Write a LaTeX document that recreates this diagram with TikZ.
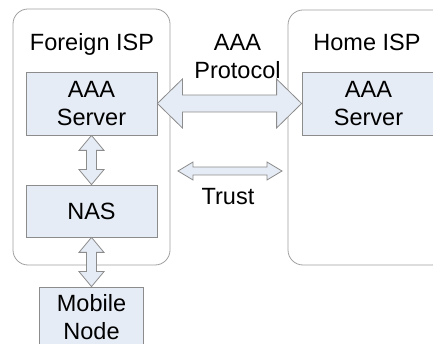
\documentclass[tikz,border=0pt]{standalone}
\usepackage{fontspec}
\setmainfont{Liberation Sans}
\usetikzlibrary{calc}

\definecolor{boxfill}{HTML}{E6ECF5}
\definecolor{boxline}{HTML}{8C8C8C}
\definecolor{ispline}{HTML}{A0A0A0}

% block arrows with a head at each end
\newcommand{\blockarrowH}[5]{%
  \draw[blockarrow] let \p1=(#1), \p2=(#2) in
    (\x1,\y1) -- (\x1+#5,\y1+#3) -- (\x1+#5,\y1+#4) -- (\x2-#5,\y1+#4)
    -- (\x2-#5,\y1+#3) -- (\x2,\y1) -- (\x2-#5,\y1-#3) -- (\x2-#5,\y1-#4)
    -- (\x1+#5,\y1-#4) -- (\x1+#5,\y1-#3) -- cycle;}
\newcommand{\blockarrowV}[5]{%
  \draw[blockarrow] let \p1=(#1), \p2=(#2) in
    (\x1,\y1) -- (\x1+#3,\y1-#5) -- (\x1+#4,\y1-#5) -- (\x1+#4,\y2+#5)
    -- (\x1+#3,\y2+#5) -- (\x1,\y2) -- (\x1-#3,\y2+#5) -- (\x1-#4,\y2+#5)
    -- (\x1-#4,\y1-#5) -- (\x1-#3,\y1-#5) -- cycle;}

\begin{document}
\begin{tikzpicture}[
    x=1pt, y=-1pt,
    font=\fontsize{23.5}{28}\selectfont,
    isp/.style={
        rectangle,
        rounded corners=15pt,
        draw=ispline,
        line width=0.8pt,
        inner sep=0pt
    },
    server/.style={
        rectangle,
        draw=boxline,
        fill=boxfill,
        line width=0.8pt,
        inner sep=0pt,
        align=center
    },
    blockarrow/.style={draw=boxline, fill=boxfill, line width=0.8pt, line join=miter},
    labelstyle/.style={align=center, inner sep=0pt}
]

\useasboundingbox (0,0) rectangle (433,344);
\clip (0,0) rectangle (433,344);

% ISP areas
\node[isp, minimum width=157pt, minimum height=256pt] (foreign) at (91.5,137) {};
\node[isp, minimum width=159pt, minimum height=255pt] (home) at (367.5,137.5) {};
\node[labelstyle] (foreigntitle) at (92,44) {Foreign ISP};
\node[labelstyle] (hometitle) at (367,42) {Home ISP};

% Boxes
\node[server, minimum width=131pt, minimum height=63pt] (faaa) at (91.5,103.5) {AAA\\Server};
\node[server, minimum width=131pt, minimum height=52pt] (nas) at (91.5,211) {NAS};
\node[server, minimum width=104pt, minimum height=60pt] (mobile) at (91.5,317) {Mobile\\Node};
\node[server, minimum width=133pt, minimum height=63pt] (haaa) at (368.5,103.5) {AAA\\Server};

% Labels between the ISPs
\node[labelstyle] (protocol) at (237.5,57) {AAA\\Protocol};
\node[labelstyle] (trust) at (228,197) {Trust};
\coordinate (trustL) at (178,171);
\coordinate (trustR) at (282,171);

% Arrows
\blockarrowH{faaa.east}{haaa.west}{24.5pt}{8.5pt}{25pt}
\blockarrowH{trustL}{trustR}{9pt}{4pt}{15pt}
\blockarrowV{faaa.south}{nas.north}{12.5pt}{5pt}{15pt}
\blockarrowV{nas.south}{mobile.north}{12.5pt}{5pt}{15pt}

\end{tikzpicture}
\end{document}
